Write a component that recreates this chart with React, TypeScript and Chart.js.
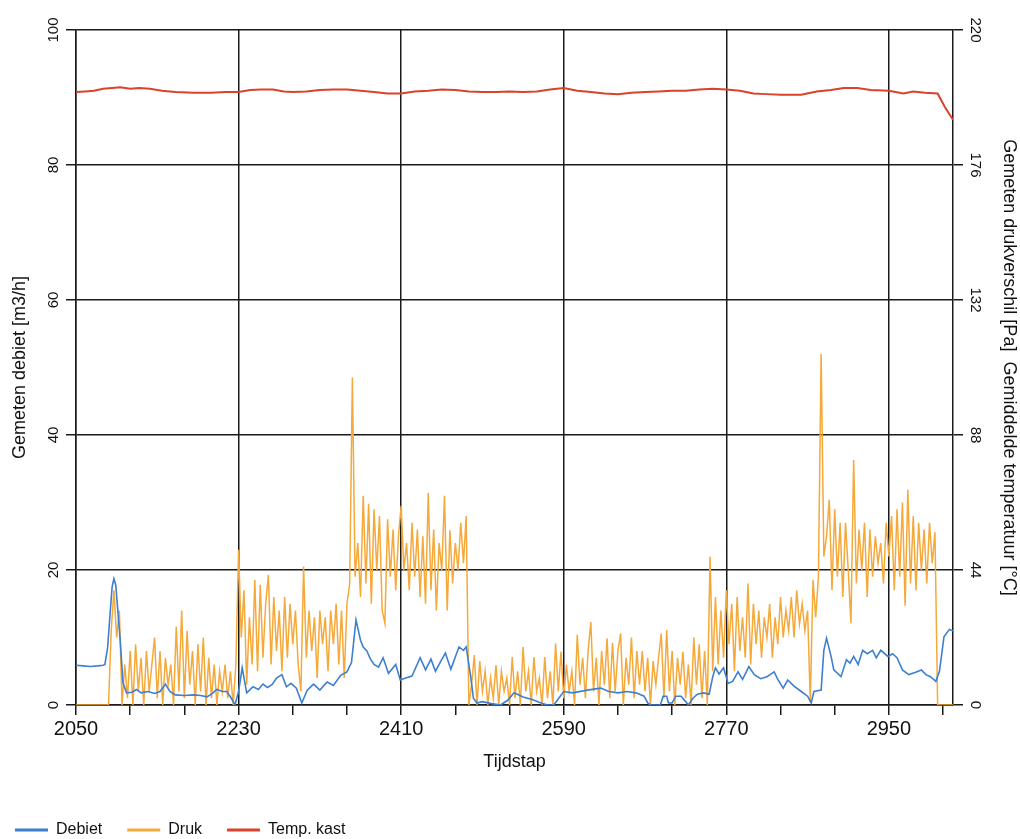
import React, { useEffect, useRef } from 'react';
import { Chart, registerables } from 'chart.js';

Chart.register(...registerables);

const FONT = "'Liberation Sans', Arial, sans-serif";

const X_MIN = 2050;
const X_MAX = 3021;
const X_TICKS = [2050, 2110, 2170, 2230, 2290, 2350, 2410, 2470, 2530, 2590, 2650, 2710, 2770, 2830, 2890, 2950, 3010];
const X_LABELS = [2050, 2230, 2410, 2590, 2770, 2950];
const Y_LEFT_TICKS = [0, 20, 40, 60, 80, 100];
const Y_RIGHT_TICKS = [0, 44, 88, 132, 176, 220];

const SERIES_NAMES = ['Debiet', 'Druk', 'Temp. kast'];

// Gemeten debiet [m3/h]
const DEBIET: [number, number][] = [
  [2050, 5.9], [2058, 5.8], [2066, 5.7], [2074, 5.8], [2080, 5.9], [2082, 6.0], [2085, 8.5], [2088, 14], [2090, 17.5], [2092, 18.7],
  [2094, 17.8], [2096, 14.5], [2099, 9.5], [2102, 3.3], [2106, 1.8], [2112, 1.9], [2117, 2.3], [2122, 1.8], [2130, 2.0], [2137, 1.7],
  [2143, 2.0], [2149, 3.1], [2154, 2.0], [2160, 1.5], [2170, 1.4], [2180, 1.5], [2188, 1.4], [2195, 1.2], [2200, 1.6], [2206, 2.3],
  [2212, 2.0], [2217, 2.0], [2222, 1.0], [2226, 0], [2230, 2.0], [2234, 5.5], [2239, 1.8], [2246, 2.7], [2252, 2.3], [2257, 3.1],
  [2262, 2.6], [2267, 3.0], [2272, 4.0], [2278, 4.5], [2283, 2.7], [2288, 3.2], [2294, 2.5], [2300, 0.3], [2306, 2.2], [2313, 3.1],
  [2320, 2.2], [2328, 3.4], [2335, 2.9], [2343, 4.4], [2350, 4.9], [2355, 6.3], [2360, 12.6], [2365, 9.6], [2368, 8.6], [2372, 8.0],
  [2376, 6.8], [2380, 6.0], [2385, 5.6], [2390, 7.0], [2396, 4.7], [2404, 6.0], [2409, 3.7], [2415, 4.0], [2422, 4.3], [2431, 7.0],
  [2437, 5.2], [2443, 6.8], [2448, 5.0], [2454, 6.5], [2459, 7.7], [2465, 5.3], [2474, 8.6], [2479, 8.1], [2482, 8.6], [2487, 4.2],
  [2490, 1.0], [2494, 0.3], [2500, 0.5], [2510, 0.2], [2520, 0], [2528, 0.7], [2535, 1.8], [2545, 1.2], [2555, 0.8], [2565, 0.3],
  [2572, 0], [2579, 0], [2590, 2.0], [2600, 1.8], [2616, 2.2], [2631, 2.5], [2640, 2.0], [2650, 1.8], [2660, 2.0], [2670, 1.8],
  [2679, 1.3], [2683, 0.3], [2686, 0], [2697, 0], [2700, 1.3], [2704, 1.3], [2706, 0.3], [2710, 0.3], [2714, 1.3], [2720, 1.3],
  [2725, 0.5], [2728, 0], [2733, 1.0], [2738, 1.6], [2745, 1.8], [2751, 1.6], [2755, 4.2], [2758, 5.5], [2762, 4.6], [2767, 5.5],
  [2772, 3.2], [2777, 3.5], [2783, 4.9], [2788, 3.8], [2795, 5.7], [2801, 4.5], [2808, 3.9], [2815, 4.2], [2823, 4.9], [2827, 3.8],
  [2833, 2.5], [2838, 3.7], [2845, 2.8], [2853, 2.0], [2860, 1.3], [2864, 0.3], [2867, 2.0], [2875, 2.2], [2878, 8.1], [2881, 9.9],
  [2886, 7.2], [2889, 5.2], [2897, 4.2], [2903, 6.7], [2907, 6.2], [2911, 7.2], [2916, 6.0], [2921, 8.1], [2926, 7.6], [2932, 8.1],
  [2936, 7.0], [2941, 8.1], [2949, 7.2], [2954, 7.6], [2959, 7.0], [2965, 5.2], [2972, 4.5], [2979, 4.8], [2986, 5.2], [2991, 4.5],
  [2996, 4.2], [3002, 3.5], [3006, 5.0], [3011, 10.1], [3017, 11.2], [3021, 11.0],
];

// Gemeten drukverschil (in units of the left axis)
const DRUK: [number, number][] = [
  [2050, 0], [2053, 0], [2056, 0], [2059, 0], [2062, 0], [2065, 0], [2068, 0], [2071, 0], [2074, 0], [2077, 0],
  [2080, 0], [2083, 0], [2086, 0], [2089, 11], [2092, 17], [2095, 10], [2098, 14], [2101, 0], [2104, 6], [2107, 1],
  [2110, 8], [2113, 0], [2116, 9], [2119, 2], [2122, 7], [2125, 0], [2128, 8], [2131, 2], [2134, 6], [2137, 10],
  [2140, 1], [2143, 8], [2146, 0], [2149, 7], [2152, 3], [2155, 6], [2158, 0], [2161, 11.6], [2164, 2], [2167, 14],
  [2170, 1], [2173, 11], [2176, 3], [2179, 8], [2182, 0], [2185, 9], [2188, 2], [2191, 10], [2194, 0], [2197, 7],
  [2200, 1], [2203, 6], [2206, 0], [2209, 5], [2212, 2], [2215, 6], [2218, 1], [2221, 5], [2224, 0], [2227, 6],
  [2230, 23], [2233, 10], [2236, 17], [2239, 3], [2242, 13], [2245, 6], [2248, 18.5], [2251, 5], [2254, 17.8], [2257, 7],
  [2260, 15], [2263, 19.3], [2266, 6], [2269, 16], [2272, 8], [2275, 14], [2278, 5], [2281, 16], [2284, 7], [2287, 15],
  [2290, 9], [2293, 14], [2296, 6], [2299, 2], [2302, 20.5], [2305, 7], [2308, 14], [2311, 8], [2314, 13], [2317, 4],
  [2320, 14], [2323, 9], [2326, 13], [2329, 5], [2332, 14], [2335, 9], [2338, 15], [2341, 6], [2344, 14], [2347, 4],
  [2350, 15], [2353, 18], [2356, 48.5], [2359, 19], [2362, 24], [2365, 16], [2368, 31], [2371, 18], [2374, 29.8], [2377, 15],
  [2380, 29], [2383, 20], [2386, 28], [2389, 14], [2392, 12.1], [2395, 27.5], [2398, 19], [2401, 26], [2404, 17], [2407, 25],
  [2410, 29.5], [2413, 20], [2416, 24], [2419, 17], [2422, 27], [2425, 19], [2428, 26], [2431, 16], [2434, 25], [2437, 15],
  [2440, 31.4], [2443, 17], [2446, 26], [2449, 14], [2452, 24], [2455, 20], [2458, 31], [2461, 14], [2464, 25.9], [2467, 18],
  [2470, 24], [2473, 20], [2476, 27], [2479, 21], [2482, 28], [2485, 0], [2488, 3], [2491, 7.4], [2494, 0], [2497, 6.5],
  [2500, 2], [2503, 5], [2506, 0], [2509, 4], [2512, 1], [2515, 5.9], [2518, 0], [2521, 5], [2524, 2], [2527, 4],
  [2530, 0], [2533, 7.1], [2536, 1], [2539, 5], [2542, 0], [2545, 8.6], [2548, 2], [2551, 5], [2554, 0], [2557, 7.1],
  [2560, 2], [2563, 4], [2566, 0], [2569, 7.1], [2572, 1], [2575, 5], [2578, 0], [2581, 9.1], [2584, 2], [2587, 7.9],
  [2590, 1], [2593, 6], [2596, 2], [2599, 5], [2602, 0], [2605, 10.4], [2608, 3], [2611, 7], [2614, 1], [2617, 8],
  [2620, 12.3], [2623, 2], [2626, 7], [2629, 0], [2632, 8], [2635, 3], [2638, 9.9], [2641, 1], [2644, 9.2], [2647, 2],
  [2650, 8], [2653, 10.6], [2656, 0], [2659, 7], [2662, 3], [2665, 10], [2668, 1], [2671, 8], [2674, 3], [2677, 8],
  [2680, 2], [2683, 7], [2686, 0], [2689, 6.5], [2692, 3], [2695, 7], [2698, 10.6], [2701, 1], [2704, 11.1], [2707, 2],
  [2710, 8], [2713, 0], [2716, 7], [2719, 3], [2722, 7.9], [2725, 1], [2728, 6], [2731, 0], [2734, 10], [2737, 3],
  [2740, 9], [2743, 1], [2746, 8], [2749, 0], [2752, 22], [2755, 5], [2758, 16], [2761, 6], [2764, 14], [2767, 7],
  [2770, 17], [2773, 9], [2776, 15], [2779, 5], [2782, 16], [2785, 8], [2788, 13], [2791, 7], [2794, 18], [2797, 6],
  [2800, 15], [2803, 9], [2806, 14], [2809, 7], [2812, 13], [2815, 10], [2818, 15], [2821, 7], [2824, 13], [2827, 9],
  [2830, 16], [2833, 10], [2836, 14], [2839, 11], [2842, 16], [2845, 10], [2848, 17], [2851, 12], [2854, 15], [2857, 11],
  [2860, 14], [2863, 0.5], [2866, 18.5], [2869, 13], [2872, 19], [2875, 52], [2878, 22], [2881, 25], [2884, 30.4], [2887, 17],
  [2890, 29], [2893, 19], [2896, 27], [2899, 16], [2902, 27], [2905, 20], [2908, 12.1], [2911, 36.3], [2914, 18], [2917, 26],
  [2920, 20], [2923, 27], [2926, 16], [2929, 26], [2932, 19], [2935, 25], [2938, 21], [2941, 24], [2944, 18], [2947, 27],
  [2950, 22], [2953, 28], [2956, 17], [2959, 29], [2962, 19], [2965, 30], [2968, 14.7], [2971, 31.9], [2974, 18], [2977, 28],
  [2980, 17], [2983, 27], [2986, 20], [2989, 26], [2992, 18], [2995, 27], [2998, 21], [3001, 25.6], [3004, 0], [3007, 0],
  [3010, 0], [3013, 0], [3016, 0], [3019, 0], [3022, 0],
];

// Gemiddelde temperatuur kast (in units of the left axis)
const TEMP: [number, number][] = [
  [2050, 90.8], [2060, 90.9], [2070, 91.0], [2080, 91.3], [2090, 91.4], [2099, 91.5], [2110, 91.3], [2120, 91.4], [2132, 91.3], [2145, 91.0],
  [2160, 90.8], [2180, 90.7], [2200, 90.7], [2215, 90.8], [2230, 90.8], [2243, 91.1], [2255, 91.2], [2268, 91.2], [2280, 90.9], [2290, 90.8],
  [2305, 90.9], [2320, 91.1], [2335, 91.2], [2350, 91.2], [2365, 91.0], [2380, 90.8], [2395, 90.6], [2410, 90.6], [2425, 90.9], [2440, 91.0],
  [2455, 91.2], [2470, 91.1], [2485, 90.9], [2500, 90.8], [2515, 90.8], [2530, 90.9], [2545, 90.8], [2560, 90.9], [2575, 91.2], [2590, 91.4],
  [2605, 91.0], [2620, 90.8], [2635, 90.6], [2650, 90.5], [2665, 90.7], [2680, 90.8], [2695, 90.9], [2710, 91.0], [2725, 91.0], [2740, 91.2],
  [2755, 91.3], [2770, 91.2], [2785, 91.0], [2800, 90.6], [2815, 90.5], [2830, 90.4], [2853, 90.4], [2870, 90.9], [2886, 91.1], [2900, 91.4],
  [2915, 91.4], [2930, 91.1], [2950, 91.0], [2966, 90.6], [2977, 90.9], [2990, 90.7], [3004, 90.6], [3012, 88.6], [3021, 86.7],
];

const COLORS = ['#3f7fd1', '#f5a93a', '#d8432a'];
const AXIS = '#1a1a1a';
const TEXT = '#111111';

const yLabelPlugin = {
  id: 'yTickLabels',
  afterDraw(chart: any) {
    const { ctx } = chart;
    const yl = chart.scales.y;
    const yr = chart.scales.y1;
    ctx.save();
    ctx.font = `15px ${FONT}`;
    ctx.fillStyle = TEXT;
    ctx.textAlign = 'center';
    ctx.textBaseline = 'middle';
    Y_LEFT_TICKS.forEach((v) => {
      ctx.save();
      ctx.translate(yl.right - 22, yl.getPixelForValue(v));
      ctx.rotate(-Math.PI / 2);
      ctx.fillText(String(v), 0, 0);
      ctx.restore();
    });
    Y_RIGHT_TICKS.forEach((v) => {
      ctx.save();
      ctx.translate(yr.left + 22, yr.getPixelForValue(v));
      ctx.rotate(Math.PI / 2);
      ctx.fillText(String(v), 0, 0);
      ctx.restore();
    });
    ctx.restore();
  },
};

export default function App() {
  const ref = useRef<HTMLCanvasElement | null>(null);

  useEffect(() => {
    if (!ref.current) return;
    const toPts = (arr: [number, number][]) => arr.map(([x, y]) => ({ x, y }));
    const chart = new Chart(ref.current, {
      type: 'line',
      data: {
        datasets: [
          { label: SERIES_NAMES[0], data: toPts(DEBIET), borderColor: COLORS[0], backgroundColor: COLORS[0], borderWidth: 1.6, pointRadius: 0, yAxisID: 'y' },
          { label: SERIES_NAMES[1], data: toPts(DRUK), borderColor: COLORS[1], backgroundColor: COLORS[1], borderWidth: 1.5, pointRadius: 0, yAxisID: 'y' },
          { label: SERIES_NAMES[2], data: toPts(TEMP), borderColor: COLORS[2], backgroundColor: COLORS[2], borderWidth: 2, pointRadius: 0, yAxisID: 'y' },
        ],
      },
      options: {
        animation: false,
        responsive: false,
        layout: { padding: { left: -10, right: 0, top: 30, bottom: -9 } },
        plugins: {
          tooltip: { enabled: false },
          legend: {
            position: 'bottom',
            align: 'start',
            labels: {
              boxWidth: 33,
              boxHeight: 3,
              padding: 25,
              color: TEXT,
              font: { family: FONT, size: 16 },
              generateLabels: (c: any) =>
                (Chart.defaults.plugins.legend.labels as any).generateLabels(c).map((l: any) => ({ ...l, lineWidth: 0, fillStyle: l.strokeStyle })),
            },
          },
        },
        scales: {
          x: {
            type: 'linear',
            min: X_MIN,
            max: X_MAX,
            afterBuildTicks: (s: any) => { s.ticks = X_TICKS.map((v) => ({ value: v })); },
            afterFit: (s: any) => { s.height = 92; },
            ticks: {
              autoSkip: false,
              maxRotation: 0,
              padding: 2,
              color: TEXT,
              font: { family: FONT, size: 20 },
              callback: (v: any) => (X_LABELS.includes(Number(v)) ? String(v) : ''),
            },
            grid: {
              color: (c: any) => (c.tick && X_LABELS.includes(c.tick.value) ? AXIS : 'rgba(0,0,0,0)'),
              tickColor: AXIS,
              lineWidth: 1.5,
              tickLength: 10,
            },
            border: { display: true, color: AXIS, width: 1.5 },
            title: { display: true, text: 'Tijdstap', color: TEXT, font: { family: FONT, size: 18 }, padding: { top: 0, bottom: 24 } },
          },
          y: {
            type: 'linear',
            position: 'left',
            min: 0,
            max: 100,
            afterFit: (s: any) => { s.width = 86; },
            ticks: { stepSize: 20, display: false },
            grid: { color: AXIS, lineWidth: 1.5, tickLength: 10 },
            border: { display: true, color: AXIS, width: 1.5 },
            title: { display: true, text: 'Gemeten debiet [m3/h]', color: TEXT, font: { family: FONT, size: 18 }, padding: { top: 19, bottom: 0 } },
          },
          y1: {
            type: 'linear',
            position: 'right',
            min: 0,
            max: 220,
            afterFit: (s: any) => { s.width = 67; },
            ticks: { stepSize: 44, display: false },
            grid: { drawOnChartArea: false, color: AXIS, lineWidth: 1.5, tickLength: 10 },
            border: { display: true, color: AXIS, width: 1.5 },
            title: {
              display: true,
              text: 'Gemeten drukverschil [Pa]  Gemiddelde temperatuur [°C]',
              color: TEXT,
              font: { family: FONT, size: 18 },
              padding: { top: 0, bottom: 0 },
            },
          },
        },
      } as any,
      plugins: [yLabelPlugin],
    });
    return () => chart.destroy();
  }, []);

  return (
    <div style={{ position: 'absolute', left: 0, top: 0, width: 1020, height: 839, background: '#ffffff' }}>
      <canvas ref={ref} width={1020} height={839} style={{ display: 'block' }} />
    </div>
  );
}
